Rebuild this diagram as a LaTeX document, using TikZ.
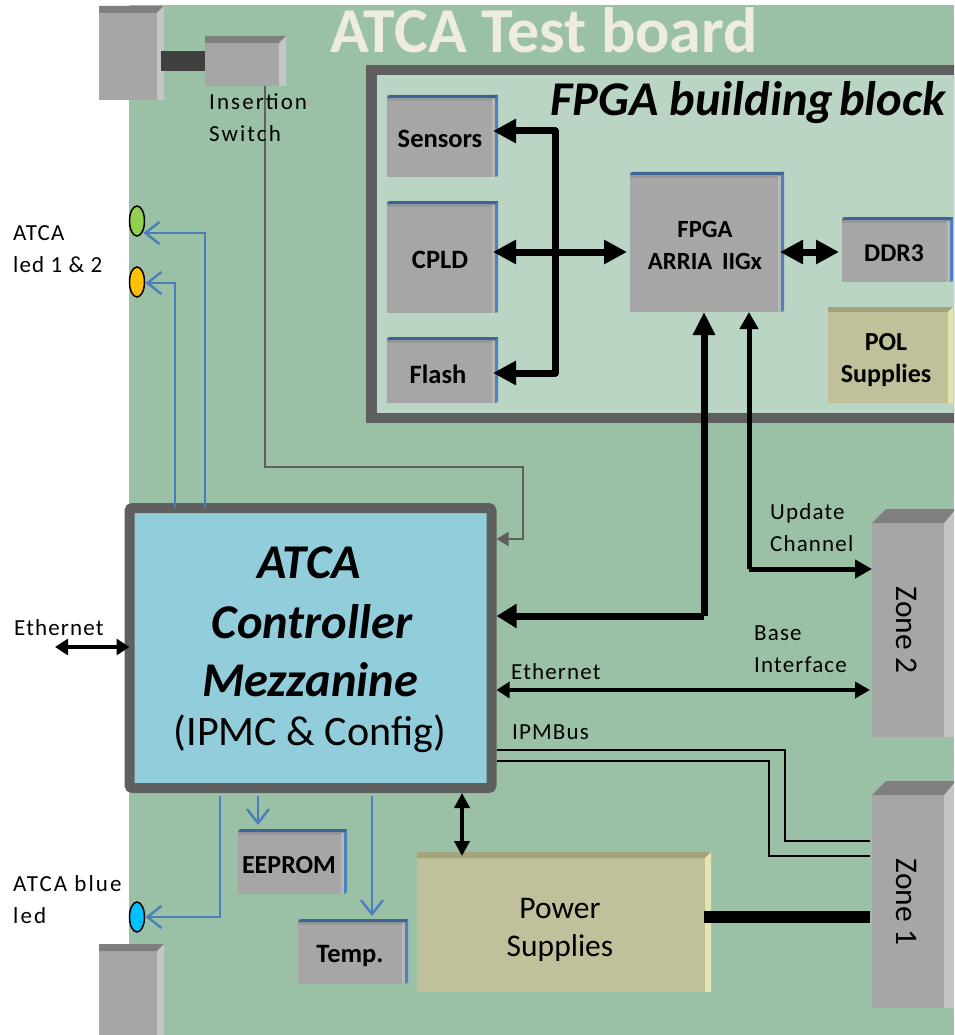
\documentclass[tikz,border=0pt]{standalone}
\usepackage{fontspec}
\setmainfont{Carlito}
\newfontfamily\spaced[LetterSpace=5]{Carlito}
\newfontfamily\wider[LetterSpace=9]{Carlito}
\usetikzlibrary{arrows.meta,calc,shapes.geometric}
\definecolor{board}{HTML}{9AC0A5}
\definecolor{inner}{HTML}{BAD5C4}
\definecolor{frame}{HTML}{5F5F5F}
\definecolor{grayf}{HTML}{A6A6A6}
\definecolor{grayt}{HTML}{7F7F7F}
\definecolor{grays}{HTML}{C4C4C4}
\definecolor{olivef}{HTML}{C0C09A}
\definecolor{olivet}{HTML}{A3A37C}
\definecolor{olives}{HTML}{E4E4B0}
\definecolor{bluet}{HTML}{3C6494}
\definecolor{blues}{HTML}{4F81BD}
\definecolor{wire}{HTML}{4A7EBB}
\definecolor{mezz}{HTML}{92CDDC}
\definecolor{titlec}{HTML}{EEECE1}
\tikzset{
  blockbox/.style={inner sep=0,outer sep=0,draw=none},
  chip/.style={font=\fontsize{26.5}{32}\selectfont\bfseries,align=center,inner sep=0},
  lab/.style={font=\fontsize{23}{32}\selectfont\spaced,align=left,anchor=west,inner sep=0},
  big/.style={font=\fontsize{31.5}{38}\selectfont,align=center,inner sep=0},
  mez/.style={font=\fontsize{48.5}{50}\selectfont\bfseries\itshape,inner sep=0},
  bus/.style={line width=7pt,line join=round},
  bushead/.style={-{Triangle[length=23pt,width=23pt]}},
  busboth/.style={{Triangle[length=23pt,width=23pt]}-{Triangle[length=23pt,width=23pt]}},
  sig/.style={draw=wire,line width=2.4pt,line join=miter,-{Straight Barb[length=14pt,width=22pt,line width=2.4pt]}},
  thinwire/.style={line width=1.5pt,line join=miter},
  led/.style={ellipse,draw=black,line width=1.5pt,minimum width=15pt,minimum height=30pt,inner sep=0,outer sep=0},
}
% name, x0, y0, x1, y1, face, top, side, bevel
\newcommand\bevbox[9]{%
  \node[blockbox,fill=#6,minimum width={(#4-#2)*1pt},minimum height={(#5-#3)*1pt}] (#1) at ({(#2+#4)/2},{(#3+#5)/2}) {};
  \fill[#7] (#2,#3) -- (#4,#3) -- ({#4-#9},{#3+#9}) -- (#2,{#3+#9}) -- cycle;
  \fill[#8] (#4,#3) -- (#4,#5) -- ({#4-#9},#5) -- ({#4-#9},{#3+#9}) -- cycle;
}
% gray chip with a blue edge
\newcommand\bluechip[5]{%
  \node[blockbox,fill=grayf,minimum width={(#4-#2)*1pt},minimum height={(#5-#3)*1pt}] (#1) at ({(#2+#4)/2},{(#3+#5)/2}) {};
  \fill[grayf!65!grayt] (#2,{#3+2}) rectangle ({#4-3},{#3+6});
  \fill[grayf!45!grays] ({#4-6},{#3+4}) rectangle ({#4-3},#5);
  \fill[blues] ({#4-3},#3) -- (#4,#3) -- (#4,{#5-2}) -- ({#4-3},#5) -- cycle;
  \fill[bluet] (#2,{#3+3}) -- ({#2+2},#3) -- (#4,#3) -- ({#4-2},{#3+3}) -- cycle;
}
% connector zone with slanted top
\newcommand\zonebox[3]{%
  \node[blockbox,fill=grayf,minimum width=82pt,minimum height={(#3-#2)*1pt}] (#1) at (913,{(#2+#3)/2}) {};
  \fill[grays] (944,#2) -- (954,{#2-12}) -- (954,#3) -- (944,#3) -- cycle;
  \fill[grayt] (872,#2) -- (886,{#2-14}) -- (954,{#2-14}) -- (954,{#2-12}) -- (944,#2) -- cycle;
}
\begin{document}
\begin{tikzpicture}[x=1pt,y=-1pt]
\clip (0,0) rectangle (954,1035);
\fill[white] (0,0) rectangle (954,1035);
% board
\node[blockbox,fill=board,minimum width=825pt,minimum height=1030pt] (board) at (541.5,520) {};
\node[font=\fontsize{64}{64}\selectfont\bfseries,text=titlec,inner sep=0] (title) at (544,30) {ATCA Test board};
% handles and switch
\bevbox{handleT}{99}{6}{164}{100}{grayf}{grayt}{grays}{7}
\bevbox{handleB}{99}{944}{164}{1035}{grayf}{grayt}{grays}{7}
\bevbox{switch}{205}{36}{286}{86}{grayf}{grayt}{grays}{7}
\node[blockbox,fill=black!75,minimum width=44pt,minimum height=20pt] (lever) at (183,61) {};
% FPGA block
\node[blockbox,fill=frame,minimum width=640pt,minimum height=358pt,anchor=north west] (fpgablock) at (366,65) {};
\node[blockbox,fill=inner,minimum width=620pt,minimum height=338pt,anchor=north west] (fpgainner) at (377,75) {};
\node[font=\fontsize{48.5}{50}\selectfont\bfseries\itshape,inner sep=0] (fpgatitle) at (748,103) {FPGA building\hspace{-5pt} block};
\bluechip{sensors}{387}{95}{498}{177}
\bluechip{cpld}{387}{201}{498}{313}
\bluechip{flash}{387}{337}{498}{403}
\bluechip{fpga}{630}{172}{784}{312}
\bluechip{ddr}{842}{217}{953}{282}
\bevbox{pol}{828}{307}{953}{403}{olivef}{olivet}{olives}{5}
\node[chip] (sensorsT) at (440,139) {Sensors};
\node[chip] (cpldT) at (440,260) {CPLD};
\node[chip] (flashT) at (438,374) {Flash};
\node[chip,font=\fontsize{24.7}{32}\selectfont\bfseries] (fpgaT) at (705,245) {FPGA\\[0pt]ARRIA\, IIGx};
\node[chip,font=\fontsize{25.6}{32}\selectfont\bfseries] (ddrT) at (894,253) {DDR3};
\node[chip,font=\fontsize{26}{32}\selectfont\bfseries] (polT) at (886,360) {POL\\Supplies};
% lower blocks
\bluechip{eeprom}{238}{829}{347}{894}
\bluechip{temp}{298}{919}{408}{984}
\node[chip,font=\fontsize{26}{32}\selectfont\bfseries] (eepromT) at (289,865) {EEPROM};
\node[chip] (tempT) at (350,956) {Temp.};
\bevbox{power}{417}{852}{711}{992}{olivef}{olivet}{olives}{6}
\node[big] (powerT) at (560,930) {Power\\Supplies};
\zonebox{zoneB}{523}{737}
\zonebox{zoneA}{795}{1008}
\node[big,rotate=-90] (zoneBT) at (907,630) {Zone 2};
\node[big,rotate=-90] (zoneAT) at (907,902) {Zone 1};
% FPGA-block connectors
\coordinate (busN) at (555,131);
\coordinate (busS) at (555,373);
\coordinate (cornerThick) at (704,616);
\coordinate (cornerUpd) at (749,569);
\draw[bus,bushead] (busS) -- (busN) -- ([shift={(-5,-5)}]sensors.east);
\draw[bus,bushead] (busN) -- (busS) -- ([shift={(-5,3)}]flash.east);
\draw[bus,busboth] ([shift={(-5,-5)}]cpld.east) -- ([shift={(-3,10)}]fpga.west);
\draw[bus,busboth] ([shift={(-4,10)}]fpga.east) -- ([shift={(-3,2.5)}]ddr.west);
% mezzanine
\node[draw=frame,line width=10pt,rounded corners=3pt,fill=mezz,inner sep=0,outer sep=0,minimum width=362pt,minimum height=280pt] (mezzanine) at (310.5,648) {};
\node[mez] (m1) at (309,563) {ATCA};
\node[mez] (m2) at (312,622) {Controller};
\node[mez] (m3) at (310,680) {Mezzanine};
\node[font=\fontsize{42}{44}\selectfont,inner sep=0] (m4) at (310,734) {(IPMC \& Config)};
% LEDs
\node[led,fill={rgb,255:red,146;green,208;blue,80}] (ledG) at (137,221) {};
\node[led,fill={rgb,255:red,255;green,192;blue,0}] (ledA) at (137,282) {};
\node[led,fill={rgb,255:red,0;green,192;blue,255}] (ledB) at (137,917) {};
% thick connectors
\draw[line width=7pt,line join=round,-{Triangle[length=20pt,width=23pt]}] (cornerThick) -- ([xshift=5pt]mezzanine.east |- cornerThick);
\draw[line width=7pt,line join=round,-{Triangle[length=23pt,width=21pt]}] (cornerThick) -- (cornerThick |- fpga.south);
\draw[line width=5pt,line join=miter,-{Triangle[length=17pt,width=18pt]}] (cornerUpd) -- (cornerUpd |- fpga.south);
\draw[line width=5pt,line join=miter,-{Triangle[length=17pt,width=18pt]}] (cornerUpd) -- (cornerUpd -| zoneB.west);
\coordinate (ethY) at (600,690);
\draw[line width=3.5pt,{Triangle[length=13pt,width=16pt]}-{Triangle[length=15pt,width=16pt]}] ([xshift=5pt]mezzanine.east |- ethY) -- ([xshift=-2pt]zoneB.west |- ethY);
\coordinate (extEth) at (55,647);
\draw[line width=3.5pt,{Triangle[length=13pt,width=16pt]}-{Triangle[length=13pt,width=16pt]}] (extEth) -- (mezzanine.west |- extEth);
\coordinate (pwrY) at (800,917);
\draw[line width=12pt] ([xshift=-7pt]power.east |- pwrY) -- ([xshift=-2pt]zoneA.west |- pwrY);
\coordinate (p1a) at (785,750);
\coordinate (p1b) at (785,841);
\coordinate (p2a) at (769,761);
\coordinate (p2b) at (769,856);
\draw[thinwire] ([xshift=5pt]mezzanine.east |- p1a) -- (p1a) -- (p1b) -- ([xshift=-2pt]zoneA.west |- p1b);
\draw[thinwire] ([xshift=5pt]mezzanine.east |- p2a) -- (p2a) -- (p2b) -- ([xshift=-2pt]zoneA.west |- p2b);
\coordinate (pwrX) at (462,800);
\draw[line width=4pt,{Triangle[length=15pt,width=15pt]}-{Triangle[length=15pt,width=15pt]}] ([yshift=-5pt]mezzanine.south -| pwrX) -- ([yshift=-4pt]power.north -| pwrX);
% switch line
\coordinate (swA) at (265,467);
\coordinate (swB) at (523,467);
\coordinate (swC) at (523,539);
\draw[frame,line width=2pt,line join=miter,-{Triangle[length=12pt,width=14pt]}] (switch.south -| swA) -- (swA) -- (swB) -- (swC) -- ([xshift=5pt]mezzanine.east |- swC);
% blue signals
\coordinate (sGa) at (205,233);
\coordinate (sAa) at (175,283);
\coordinate (sBa) at (220,917);
\coordinate (sEe) at (258,796);
\coordinate (sTe) at (372,796);
\draw[sig] (mezzanine.north -| sGa) -- (sGa) -- ([xshift=-1pt]ledG.east |- sGa);
\draw[sig] (mezzanine.north -| sAa) -- (sAa) -- ([xshift=1pt]ledA.east |- sAa);
\draw[sig] (sBa |- sEe) -- (sBa) -- ([xshift=1pt]ledB.east |- sBa);
\draw[sig] (sEe) -- ([yshift=4pt]eeprom.north -| sEe);
\draw[sig] (sTe) -- ([yshift=3pt]temp.north -| sTe);
% labels
\node[lab,font=\fontsize{23}{32}\selectfont\wider] (insT) at (209,118) {Insertion\\Switch};
\node[lab] (ledsT) at (13,249) {ATCA\\led 1 \& 2};
\node[lab] (ethLT) at (14,628) {Ethernet};
\node[lab,font=\fontsize{23}{32}\selectfont\wider] (blueT) at (13,900) {ATCA blue\\led};
\node[lab] (ethRT) at (511,672) {Ethernet};
\node[lab] (updT) at (770,528) {Update\\Channel};
\node[lab] (baseT) at (754,649) {Base\\Interface};
\node[lab] (ipmbT) at (512,732) {IPMBus};
\end{tikzpicture}
\end{document}
